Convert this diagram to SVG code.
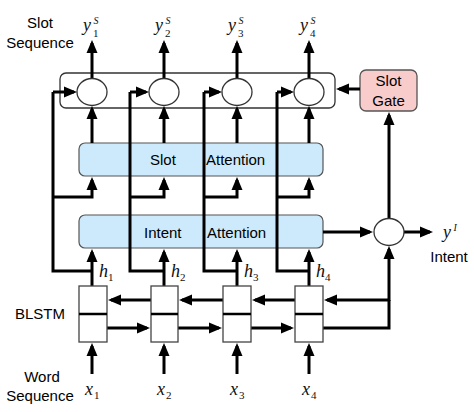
<svg xmlns="http://www.w3.org/2000/svg" width="474" height="412" viewBox="0 0 474 412">
<defs>
<marker id="ah" markerUnits="userSpaceOnUse" markerWidth="14" markerHeight="14" viewBox="0 0 14 14" refX="10" refY="7" orient="auto">
<path d="M0,1.5 L13,7 L0,12.5 z" fill="#000"/>
</marker>
<style>
.lbl{font-family:"Liberation Sans",Arial,sans-serif;font-size:15px;fill:#000}
.math{font-family:"Liberation Serif","Times New Roman",serif;font-style:italic;fill:#111}
.sub{font-family:"Liberation Serif","Times New Roman",serif;font-size:11px;fill:#111}
.sup{font-family:"Liberation Serif","Times New Roman",serif;font-size:10px;font-style:italic;fill:#111}
.c{fill:none;stroke:#000;stroke-width:3}
.a{fill:none;stroke:#000;stroke-width:3;marker-end:url(#ah)}
.att{fill:#cdeafc;stroke:#555;stroke-width:1.2}
.cell{fill:#fff;stroke:#444;stroke-width:1.3}
.circ{fill:#fff;stroke:#333;stroke-width:1.3}
</style>
</defs>
<rect width="474" height="412" fill="#fff"/>

<g id="slot-gate-box">
<rect x="60" y="73" width="275" height="35" rx="6" fill="#fff" stroke="#333" stroke-width="1.3"/>
</g>
<g id="slot-gate">
<rect x="360" y="70" width="57" height="41" rx="6" fill="#f9cccc" stroke="#555" stroke-width="1.3"/>
<text class="lbl" x="388.5" y="86" text-anchor="middle">Slot</text>
<text class="lbl" x="388.5" y="106" text-anchor="middle">Gate</text>
</g>
<g id="slot-attention">
<rect class="att" x="79" y="143" width="244" height="33" rx="6"/>
<text class="lbl" x="150" y="165">Slot</text>
<text class="lbl" x="206" y="165">Attention</text>
</g>
<g id="intent-attention">
<rect class="att" x="79" y="215" width="244" height="33" rx="6"/>
<text class="lbl" x="144" y="238">Intent</text>
<text class="lbl" x="207" y="238">Attention</text>
</g>

<g id="connectors">
<path class="c" d="M92,271 H53 V92"/>
<path class="a" d="M53,92 H74"/>
<path class="a" d="M53,197 H92 V180"/>
<path class="c" d="M164,271 H130 V92"/>
<path class="a" d="M130,92 H146"/>
<path class="a" d="M130,197 H164 V180"/>
<path class="c" d="M237,271 H204 V92"/>
<path class="a" d="M204,92 H219"/>
<path class="a" d="M204,197 H237 V180"/>
<path class="c" d="M309,271 H277 V92"/>
<path class="a" d="M277,92 H291"/>
<path class="a" d="M277,197 H309 V180"/>
<path class="a" d="M92,143 V109"/>
<path class="a" d="M164,143 V109"/>
<path class="a" d="M237,143 V109"/>
<path class="a" d="M309,143 V109"/>
<path class="a" d="M92,78 V43"/>
<path class="a" d="M164,78 V43"/>
<path class="a" d="M237,78 V43"/>
<path class="a" d="M309,78 V43"/>
<path class="a" d="M92,286 V252"/>
<path class="a" d="M164,286 V252"/>
<path class="a" d="M237,286 V252"/>
<path class="a" d="M309,286 V252"/>
<path class="a" d="M92,374 V346"/>
<path class="a" d="M164,374 V346"/>
<path class="a" d="M237,374 V346"/>
<path class="a" d="M309,374 V346"/>
<path class="a" d="M151,300 H111"/>
<path class="a" d="M223,300 H182"/>
<path class="a" d="M295,300 H255"/>
<path class="a" d="M389,300 H327"/>
<path class="a" d="M107,328 H147"/>
<path class="a" d="M178,328 H219"/>
<path class="a" d="M251,328 H291"/>
<path class="c" d="M323,328 H389 V300"/>
<path class="a" d="M389,301 V249"/>
<path class="a" d="M323,232 H370"/>
<path class="a" d="M404,232 H430"/>
<path class="a" d="M389,219 V115"/>
<path class="a" d="M360,89 H339"/>
</g>

<g id="circles">
<ellipse class="circ" cx="92" cy="92" rx="15" ry="13.5"/>
<ellipse class="circ" cx="164" cy="92" rx="15" ry="13.5"/>
<ellipse class="circ" cx="237" cy="92" rx="15" ry="13.5"/>
<ellipse class="circ" cx="309" cy="92" rx="15" ry="13.5"/>
</g>
<g id="intent-node">
<ellipse class="circ" cx="389" cy="232" rx="15" ry="13.5"/>
</g>

<g id="blstm-1"><rect class="cell" x="79" y="286" width="28" height="56"/><line x1="79" y1="314" x2="107" y2="314" stroke="#000" stroke-width="2.5"/></g>
<g id="blstm-2"><rect class="cell" x="151" y="286" width="27" height="56"/><line x1="151" y1="314" x2="178" y2="314" stroke="#000" stroke-width="2.5"/></g>
<g id="blstm-3"><rect class="cell" x="223" y="286" width="28" height="56"/><line x1="223" y1="314" x2="251" y2="314" stroke="#000" stroke-width="2.5"/></g>
<g id="blstm-4"><rect class="cell" x="295" y="286" width="28" height="56"/><line x1="295" y1="314" x2="323" y2="314" stroke="#000" stroke-width="2.5"/></g>

<g id="labels">
<text class="lbl" x="40" y="28" text-anchor="middle">Slot</text>
<text class="lbl" x="40" y="48" text-anchor="middle">Sequence</text>
<text class="lbl" x="40" y="319" text-anchor="middle">BLSTM</text>
<text class="lbl" x="42" y="382" text-anchor="middle">Word</text>
<text class="lbl" x="40" y="401" text-anchor="middle">Sequence</text>
<text class="lbl" x="449" y="262" text-anchor="middle">Intent</text>

<text class="math" font-size="18" x="83" y="31">y</text><text class="sup" x="93.5" y="24">S</text><text class="sub" x="93" y="37">1</text>
<text class="math" font-size="18" x="155" y="31">y</text><text class="sup" x="165.5" y="24">S</text><text class="sub" x="165" y="37">2</text>
<text class="math" font-size="18" x="228" y="31">y</text><text class="sup" x="238.5" y="24">S</text><text class="sub" x="238" y="37">3</text>
<text class="math" font-size="18" x="300" y="31">y</text><text class="sup" x="310.5" y="24">S</text><text class="sub" x="310" y="37">4</text>

<text class="math" font-size="18" x="99" y="277">h</text><text class="sub" x="108" y="281">1</text>
<text class="math" font-size="18" x="171" y="277">h</text><text class="sub" x="180" y="281">2</text>
<text class="math" font-size="18" x="244" y="277">h</text><text class="sub" x="253" y="281">3</text>
<text class="math" font-size="18" x="316" y="277">h</text><text class="sub" x="325" y="281">4</text>

<text class="math" font-size="18" x="85" y="395">x</text><text class="sub" x="94" y="399">1</text>
<text class="math" font-size="18" x="157" y="395">x</text><text class="sub" x="166" y="399">2</text>
<text class="math" font-size="18" x="230" y="395">x</text><text class="sub" x="239" y="399">3</text>
<text class="math" font-size="18" x="302" y="395">x</text><text class="sub" x="311" y="399">4</text>

<text class="math" font-size="18" x="443" y="238">y</text><text class="sup" x="453.5" y="231">I</text>
</g>
</svg>
